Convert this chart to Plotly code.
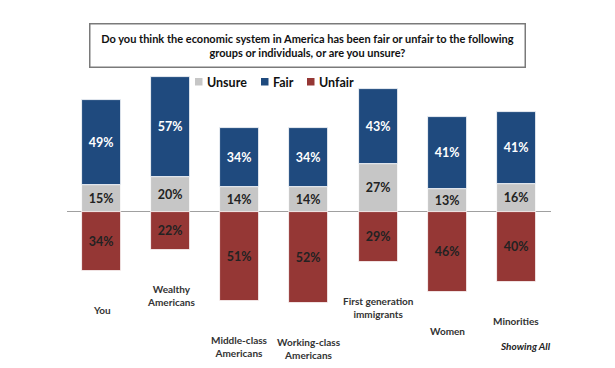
import plotly.graph_objects as go

categories = ["You", "Wealthy<br>Americans", "Middle-class<br>Americans", "Working-class<br>Americans",
              "First generation<br>immigrants", "Women", "Minorities"]
series_names = ["Unsure", "Fair", "Unfair"]
unsure = [15, 20, 14, 14, 27, 13, 16]
fair = [49, 57, 34, 34, 43, 41, 41]
unfair = [34, 22, 51, 52, 29, 46, 40]

title_text = ("Do you think the economic system in America has been fair or unfair to the following<br>"
              "groups or individuals, or are you unsure?")

BLUE = "#1f4a7e"
GRAY = "#c6c6c6"
RED = "#953735"
COLORS = [GRAY, BLUE, RED]
FONT = "Lato"

# page has an 8px body margin; figure is sized to fit the 615x368 window
OFF = 8
W, H = 615 - OFF, 368 - OFF
L, R, T, B = 59, 64, 52, 10
pw, ph = W - L - R, H - T - B
ZERO = 211.5 - OFF
SCALE = 1.75
STEP = 69.08
C0 = 101.7 - OFF


def px(xp):  # page pixel x -> paper
    return (xp - OFF - L) / pw


def py(yp):  # page pixel y -> paper
    return (H - B - (yp - OFF)) / ph


x = list(range(len(categories)))
fig = go.Figure()
vals = [unsure, fair, [-v for v in unfair]]
labels = [unsure, fair, unfair]
txtcol = ["#222222", "white", "#222222"]
for name, v, lab, col, tc in zip(series_names, vals, labels, COLORS, txtcol):
    fig.add_bar(name=name, x=x, y=v, marker=dict(color=col, line=dict(color="white", width=0.8)),
                text=[f"{t}%" for t in lab], textposition="inside", insidetextanchor="middle",
                textfont=dict(color=tc, size=12.5, family=FONT, weight="bold"), width=0.565,
                showlegend=False)

fig.update_traces(constraintext="none", textangle=0, hoverinfo="skip")

for i, (c, u) in enumerate(zip(categories, unfair)):
    fig.add_annotation(x=i, y=-u, xref="x", yref="y", text=c, showarrow=False,
                       xanchor="center", yanchor="top", yshift=-31, align="center",
                       font=dict(family=FONT, size=10, color="#333333", weight="bold"))

fig.add_annotation(x=px(525), y=py(346), xref="paper", yref="paper", text="<i>Showing All</i>",
                   showarrow=False, xanchor="center", yanchor="middle",
                   font=dict(family=FONT, size=10, color="#222222", weight="bold"))

fig.add_annotation(xref="paper", yref="paper", x=px(307.5), y=py(46), xanchor="center", yanchor="middle",
                   text=title_text, showarrow=False,
                   font=dict(family=FONT, size=11, color="#111111", weight="bold"),
                   bordercolor="#7a7a7a", borderwidth=1.5, borderpad=2, bgcolor="white",
                   width=430, height=38, align="center")

# legend (square key + label), positioned as in the reference
legend_sq_x = [195, 261, 307]
for name, col, sx in zip(series_names, COLORS, legend_sq_x):
    fig.add_shape(type="rect", xref="paper", yref="paper",
                  x0=px(sx), x1=px(sx + 7.5), y0=py(85.5), y1=py(78),
                  fillcolor=col, line=dict(width=0))
    fig.add_annotation(xref="paper", yref="paper", x=px(sx + 9.5), y=py(82), xanchor="left",
                       yanchor="middle", text=name, showarrow=False,
                       font=dict(family=FONT, size=12.5, color="#111111", weight="bold"))

fig.update_layout(
    width=W, height=H, margin=dict(l=L, r=R, t=T, b=B),
    barmode="relative", bargap=0,
    plot_bgcolor="white", paper_bgcolor="white",
    showlegend=False,
    xaxis=dict(range=[-(C0 - L) / STEP, (W - R - C0) / STEP], showticklabels=False, showgrid=False,
               zeroline=False, showline=False),
    yaxis=dict(range=[-(H - B - ZERO) / SCALE, (ZERO - T) / SCALE], showticklabels=False, showgrid=False,
               zeroline=True, zerolinecolor="#a0a0a0", zerolinewidth=1.2, showline=False),
)

fig.write_html("out.html")
